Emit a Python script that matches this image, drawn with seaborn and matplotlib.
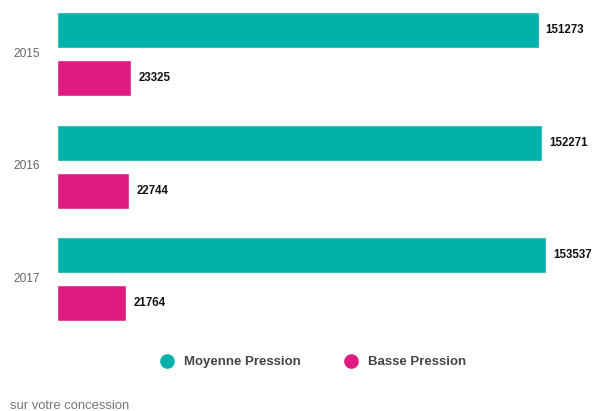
import pandas as pd
import matplotlib.pyplot as plt
from matplotlib.lines import Line2D
from matplotlib.transforms import ScaledTranslation
import seaborn as sns

# Data
years = ['2015', '2016', '2017']
moyenne_pression = [151273, 152271, 153537]
basse_pression = [23325, 22744, 21764]
series = ['Moyenne Pression', 'Basse Pression']
colors = ['#00B2A9', '#DF1B7F']

df = pd.DataFrame({
    'year': years * 2,
    'value': moyenne_pression + basse_pression,
    'series': [series[0]] * 3 + [series[1]] * 3,
})

sns.set_style('white')
plt.rcParams['font.family'] = ['Liberation Sans', 'DejaVu Sans']

fig = plt.figure(figsize=(5.92, 4.11), dpi=100)
ax = fig.add_axes([57 / 592, 1 - 340 / 411, 1 - 57 / 592, 340 / 411])

sns.barplot(data=df, y='year', x='value', hue='series', order=years,
            hue_order=series, palette=colors, orient='h',
            width=0.853, gap=0.25, legend=False, saturation=1, ax=ax)

for cont in ax.containers:
    ax.bar_label(cont, padding=5, fontsize=8.3, fontweight='bold', color='#111111')

ax.set_xlim(0, 168000)
ax.set_ylim(2.54, -0.48)
ax.set_xlabel('')
ax.set_ylabel('')
ax.set_xticks([])
ax.tick_params(axis='y', length=0, pad=12, labelsize=8.6, labelcolor='#666666')
# year labels sit a little above the group centre
for lbl in ax.get_yticklabels():
    lbl.set_transform(lbl.get_transform() + ScaledTranslation(0, 0.02, fig.dpi_scale_trans))
sns.despine(ax=ax, left=True, bottom=True)

# legend with round markers at the bottom
handles = [Line2D([], [], marker='o', linestyle='', markersize=9.5,
                  markerfacecolor=c, markeredgecolor=c) for c in colors]
leg = fig.legend(handles, series, loc='center', bbox_to_anchor=(0.524, 1 - 362 / 411),
                 ncol=2, frameon=False, handletextpad=0.3, columnspacing=2.8,
                 prop={'size': 9.5, 'weight': 'bold'})
for t in leg.get_texts():
    t.set_color('#444444')

fig.text(10 / 592, 2.5 / 411, 'sur votre concession', fontsize=9.4,
         color='#777777', va='baseline')

fig.savefig('out.png', dpi=100)
